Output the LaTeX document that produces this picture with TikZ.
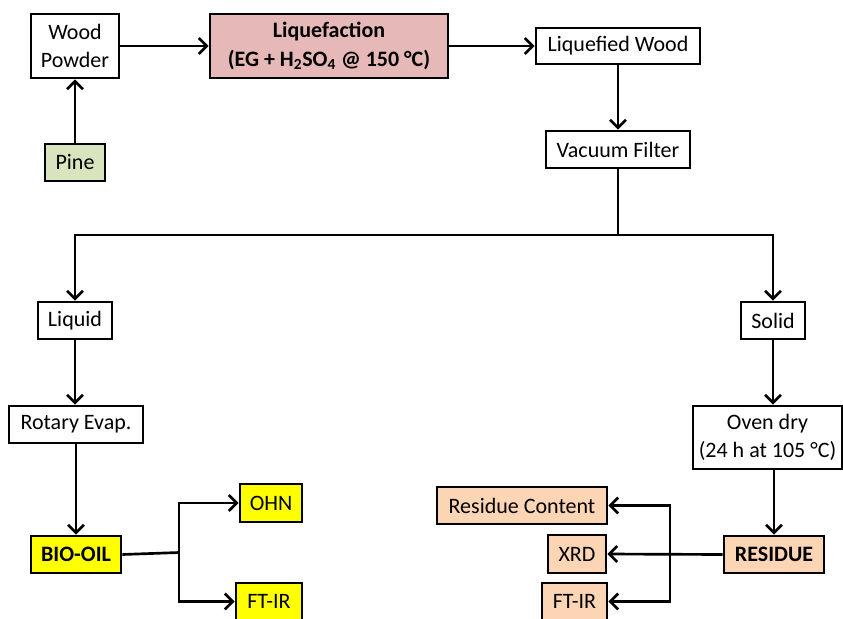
\documentclass[tikz,border=0pt]{standalone}
\usepackage{fontspec}
\setmainfont{Carlito}
\usetikzlibrary{arrows.meta,positioning,calc}
\definecolor{liqpink}{HTML}{E6B9B8}
\definecolor{pinegreen}{HTML}{D7E4BD}
\definecolor{oilyellow}{HTML}{FFFF00}
\definecolor{respeach}{HTML}{FCD5B5}
\def\px{0.75pt}
\tikzset{
  box/.style={draw, line width=2pt, inner sep=0pt, align=center,
    font=\fontsize{16.5}{21}\selectfont},
  boldbox/.style={box, font=\fontsize{16.5}{21.5}\selectfont\bfseries},
  flow/.style={line width=2pt, -{Straight Barb[length=6pt,width=12pt,line width=2pt]}},
  line/.style={line width=2pt}
}
\begin{document}
\begin{tikzpicture}[x=0.75pt, y=-0.75pt]
        \useasboundingbox (0,0) rectangle (843,618);
        % Top row
        \node [box, minimum width=88*\px, minimum height=64*\px] (wood) at (75,46) {Wood\\Powder};
        \node [boldbox, fill=liqpink, minimum width=238*\px, minimum height=64*\px] (liq) at (329,46)
               {Liquefaction\\(EG + H\textsubscript{2}SO\textsubscript{4} @ 150 °C)};
        \node [box, fill=pinegreen, minimum width=60*\px, minimum height=37*\px] (pine) at (75,162.5) {Pine};
        \node [box, minimum width=164*\px, minimum height=36*\px] (lwood) at (618,46) {Liquefied Wood};
        \node [box, minimum width=144*\px, minimum height=37*\px] (vac) at (618,149.5) {Vacuum Filter};
        % Separation
        \node [box, minimum width=74*\px, minimum height=37*\px] (liquid) at (75,320.5) {Liquid};
        \node [box, minimum width=64*\px, minimum height=37*\px] (solid) at (773,320.5) {Solid};
        \node [box, minimum width=134*\px, minimum height=37*\px] (rot) at (76,424.5) {Rotary Evap.};
        \node [box, minimum width=149*\px, minimum height=63*\px] (oven) at (767.5,437.5) {Oven dry\\(24 h at 105 °C)};
        % Products
        \node [boldbox, fill=oilyellow, minimum width=90*\px, minimum height=37*\px] (bio) at (76,554.5) {BIO-OIL};
        \node [boldbox, fill=respeach, minimum width=100*\px, minimum height=37*\px] (res) at (774,554.5) {RESIDUE};
        % Analyses
        \node [box, fill=oilyellow, minimum width=62*\px, minimum height=38*\px] (ohn) at (271,503) {OHN};
        \node [box, fill=oilyellow, minimum width=66*\px, minimum height=37*\px] (ftl) at (269,601.5) {FT-IR};
        \node [box, fill=respeach, minimum width=170*\px, minimum height=37*\px] (rc) at (522,505.5) {Residue Content};
        \node [box, fill=respeach, minimum width=58*\px, minimum height=38*\px] (xrd) at (577,554) {XRD};
        \node [box, fill=respeach, minimum width=65*\px, minimum height=37*\px] (ftr) at (574.5,601.5) {FT-IR};
        % Split points
        \coordinate (split) at (618,235);
        \coordinate (bsplit) at (179,552.5);
        \coordinate (rsplit) at (670,554);
        % Arrows
        \draw [flow] (wood.east) -- (liq.west);
        \draw [flow] (pine.north) -- (wood.south);
        \draw [flow] (liq.east) -- (lwood.west);
        \draw [flow] (lwood.south) -- (vac.north);
        \draw [line] (vac.south) -- (split);
        \draw [flow] (split) -| (liquid.north);
        \draw [flow] (split) -| (solid.north);
        \draw [flow] (liquid.south) -- (liquid.south |- rot.north);
        \draw [flow] (rot.south) -- (bio.north);
        \draw [flow] (solid.south) -- (solid.south |- oven.north);
        \draw [flow] (res.north |- oven.south) -- (res.north);
        \draw [line] (bio.east) -- (bsplit);
        \draw [flow] (bsplit) |- (ohn.west);
        \draw [flow] (bsplit) |- (ftl.west);
        \draw [flow] (res.west) -- (xrd.east);
        \draw [flow] (rsplit) |- (rc.east);
        \draw [flow] (rsplit) |- (ftr.east);
\end{tikzpicture}
\end{document}
